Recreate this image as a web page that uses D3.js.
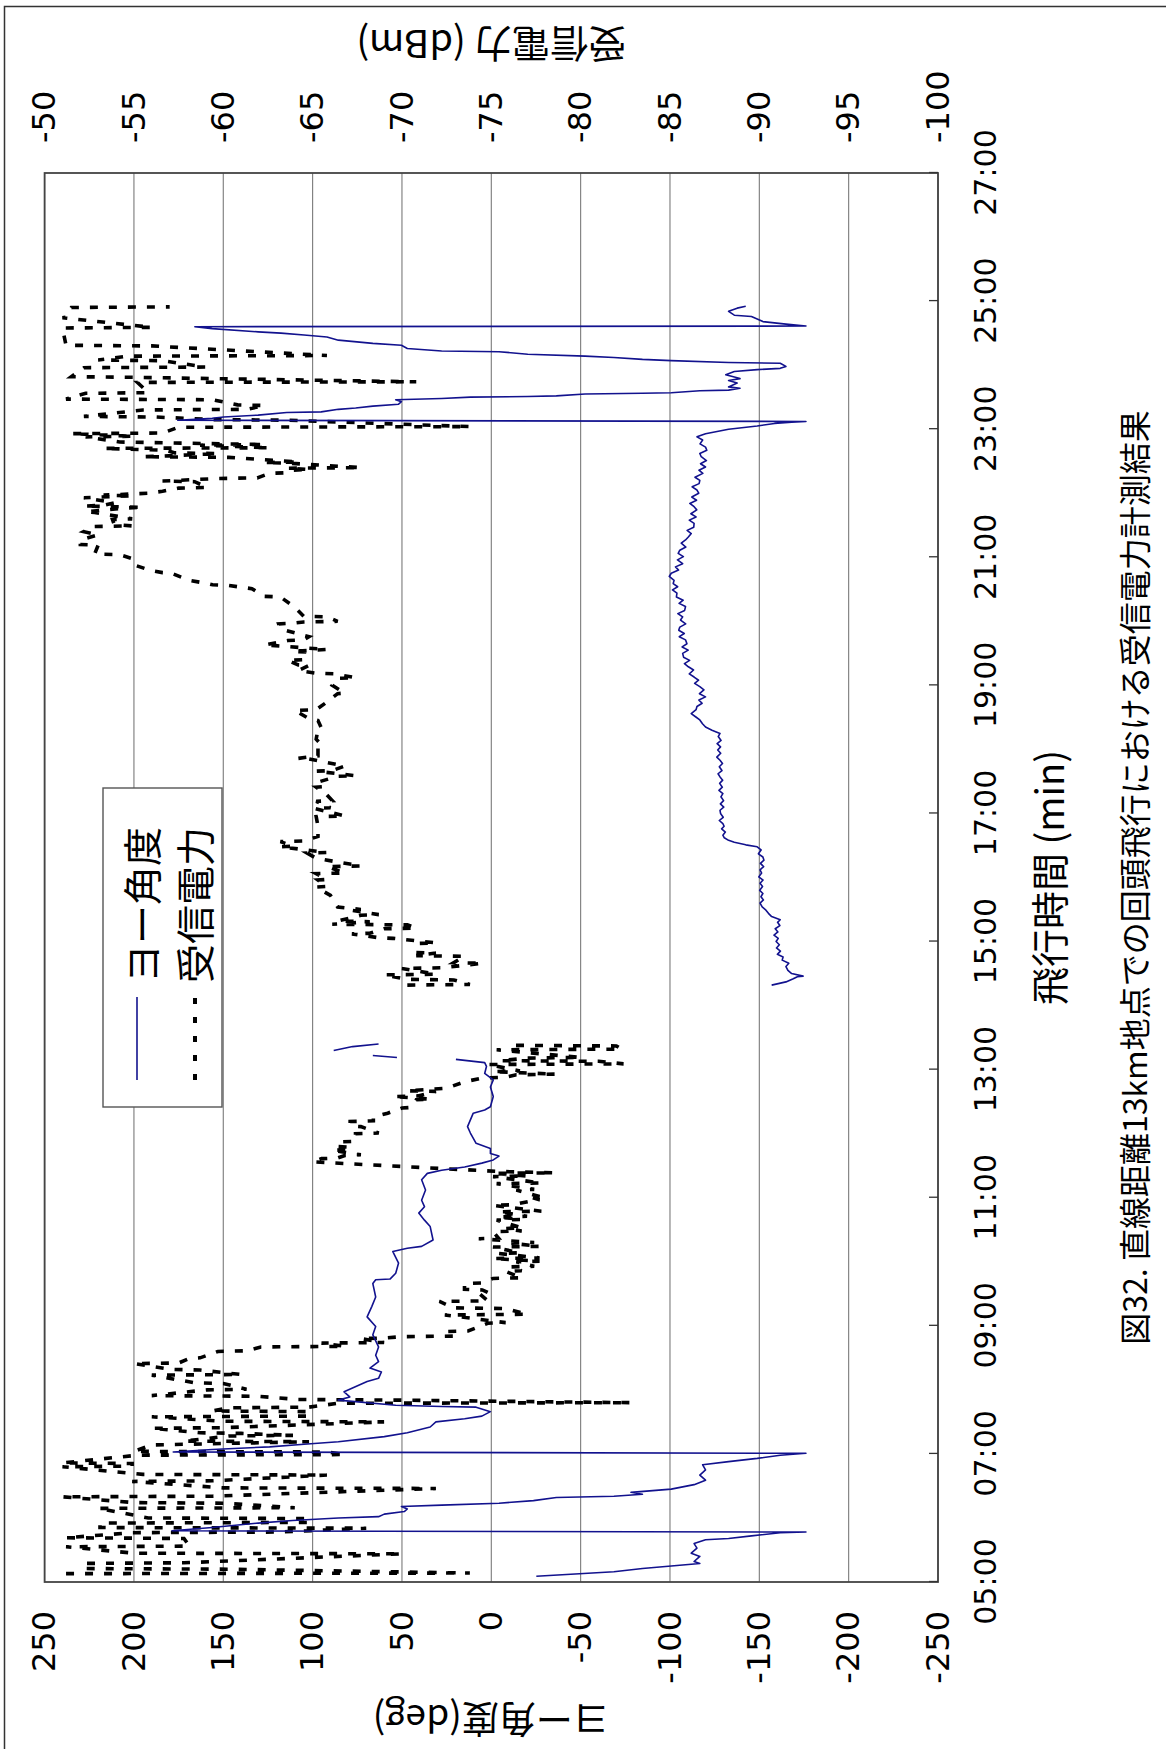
<!DOCTYPE html>
<html>
<head>
<meta charset="utf-8">
<script src="https://cdn.jsdelivr.net/npm/d3@7"></script>
<style>
  html, body { margin: 0; padding: 0; background: #fff; }
  svg { display: block; }
</style>
</head>
<body>
<svg id="chart" width="1166" height="1749"></svg>
<script>
// ---- axis ticks ----
const timeTickValues = [5, 7, 9, 11, 13, 15, 17, 19, 21, 23, 25, 27];
const timeTickLabels = ["05:00", "07:00", "09:00", "11:00", "13:00", "15:00",
                        "17:00", "19:00", "21:00", "23:00", "25:00", "27:00"];
const yawTicks = [250, 200, 150, 100, 50, 0, -50, -100, -150, -200, -250];
const yawTickLabels = ["250", "200", "150", "100", "50", "0", "-50", "-100", "-150", "-200", "-250"];
const powerTicks = [-50, -55, -60, -65, -70, -75, -80, -85, -90, -95, -100];
const powerTickLabels = ["-50", "-55", "-60", "-65", "-70", "-75", "-80", "-85", "-90", "-95", "-100"];

// ---- yaw angle (deg) vs flight time (min); null = no data ----
const yawTime = [
  5.09, 5.13, 5.16, 5.21, 5.25, 5.29, 5.32, 5.40, 5.45, 5.53, 5.60, 5.66, 5.68, 5.72, 5.77, 5.78,
  5.80, 5.85, 5.92, 5.96, 6.00, 6.02, 6.06, 6.10, 6.14, 6.18, 6.20, 6.23, 6.27, 6.32, 6.34, 6.37,
  6.40, 6.45, 6.52, 6.59, 6.67, 6.75, 6.83, 6.88, 6.93, 6.98, 7.01,
  7.03, 7.07, 7.11, 7.15, 7.19, 7.27, 7.33, 7.42, 7.50, 7.55, 7.59, 7.66, 7.73, 7.74, 7.76, 7.84,
  7.89, 7.97, 8.13, 8.18, 8.28, 8.34, 8.44, 8.54, 8.67, 8.86, 8.99, 9.14, 9.30, 9.45, 9.66, 9.72,
  9.73, 9.82, 9.98, 10.16, 10.21, 10.24, 10.34, 10.55, 10.65, 10.76, 10.86, 10.96, 11.12, 11.28,
  11.38, 11.43, 11.48, 11.54, 11.59, 11.65, 11.69, 11.77, 11.85, 12.01, 12.11, 12.32, 12.37, 12.42,
  12.58, 12.73, 12.84, 12.94, 13.05, 13.11, 13.16,
  13.17, 13.19, 13.22, 13.26, 13.30, 13.36, 13.40, 13.42,
  14.32, 14.37, 14.42, 14.45, 14.46, 14.50, 14.55, 14.61, 14.66, 14.71, 14.76, 14.80, 14.85, 14.90,
  14.95, 15.00, 15.05, 15.10, 15.15, 15.20, 15.25, 15.30, 15.34, 15.39, 15.44, 15.49, 15.54, 15.60,
  15.65, 15.70, 15.75, 15.80, 15.86, 15.91, 15.96, 16.01, 16.07, 16.12, 16.17, 16.22, 16.27, 16.32,
  16.37, 16.43, 16.48, 16.51, 16.55, 16.58, 16.62, 16.66, 16.71, 16.76, 16.80, 16.84, 16.89, 16.94,
  17.00, 17.05, 17.10, 17.15, 17.20, 17.26, 17.31, 17.36, 17.41, 17.47, 17.52, 17.57, 17.62, 17.67,
  17.73, 17.78, 17.83, 17.88, 17.94, 17.99, 18.04, 18.09, 18.14, 18.20, 18.25, 18.30, 18.35, 18.40,
  18.46, 18.51, 18.56, 18.62, 18.67, 18.72, 18.77, 18.82, 18.87, 18.93, 18.98, 19.03, 19.08, 19.13,
  19.18, 19.24, 19.29, 19.34, 19.39, 19.44, 19.50, 19.55, 19.60, 19.65, 19.71, 19.76, 19.81, 19.86,
  19.91, 19.96, 20.02, 20.07, 20.12, 20.17, 20.23, 20.28, 20.33, 20.38, 20.44, 20.49, 20.54, 20.59,
  20.64, 20.70, 20.75, 20.80, 20.85, 20.90, 20.96, 21.01, 21.06, 21.11, 21.16, 21.22, 21.27, 21.32,
  21.37, 21.42, 21.47, 21.53, 21.58, 21.63, 21.68, 21.74, 21.79, 21.84, 21.89, 21.94, 22.00, 22.05,
  22.10, 22.15, 22.20, 22.25, 22.31, 22.36, 22.41, 22.46, 22.51, 22.57, 22.62, 22.67, 22.72, 22.77,
  22.83, 22.88, 22.93, 23.00, 23.05, 23.09, 23.11, 23.12,
  23.14, 23.17, 23.19, 23.22, 23.26, 23.27, 23.31, 23.33, 23.36, 23.39, 23.43, 23.46, 23.48, 23.50,
  23.51, 23.52, 23.55, 23.56, 23.57, 23.60, 23.61, 23.64, 23.66, 23.72, 23.76, 23.79, 23.85, 23.90,
  23.93, 23.95, 23.98, 24.03, 24.04, 24.07, 24.09, 24.12, 24.14, 24.17, 24.21, 24.22, 24.26, 24.31,
  24.34, 24.39, 24.44, 24.47, 24.50, 24.52, 24.57, 24.60,
  24.61, 24.64, 24.68, 24.76, 24.78, 24.84, 24.89, 24.92
];
const yawDeg = [
  -25.2, -49.3, -68.6, -84.6, -100.7, -116.7, -113.5, -116.7, -111.9, -115.1, -113.5, -119.9, -132.8, -145.6, -161.7, -176.1,
  178.7, 156.2, 130.5, 111.3, 85.6, 63.1, 59.9, 48.7, 47.0, 50.3, 27.8, -4.3, -23.6, -36.4, -68.6, -84.6,
  -78.2, -100.7, -113.5, -119.9, -116.7, -119.9, -118.3, -132.8, -148.8, -161.7, -176.1,
  178.0, 156.2, 124.1, 104.8, 85.6, 59.9, 47.0, 34.2, 31.0, 14.9, 5.3, 0.5, 8.5, 27.8, 53.5, 85.6,
  79.2, 82.4, 69.5, 63.1, 61.5, 67.9, 63.1, 64.7, 63.1, 66.3, 64.7, 69.5, 66.9, 64.7, 66.3, 64.7,
  56.7, 53.5, 51.9, 55.1, 47.0, 39.0, 32.6, 34.2, 37.4, 40.6, 37.4, 39.0, 36.8, 39.0,
  35.8, 27.8, 14.9, 5.3, -1.1, -4.3, 0.5, 0.5, 8.5, 11.7, 13.3, 10.1, 3.7, 0.5,
  -1.1, 0.5, -1.1, 3.7, 2.7, 3.7, 19.8,
  null, 52.8, 66.3, null, 88.2, 77.6, 63.1, null,
  -156.9, -164.9, -169.0, -171.3, -174.5, -168.1, -166.0, -164.9, -166.5, -162.8, -163.3, -160.1, -161.8, -159.6,
  -161.2, -159.4, -160.6, -158.2, -160.4, -158.9, -161.5, -160.2, -161.7, -156.9, -155.1, -153.7, -151.6, -150.4,
  -152.3, -150.9, -152.0, -150.2, -151.8, -150.4, -152.1, -149.7, -151.3, -150.4, -152.4, -150.6, -152.6, -152.0,
  -149.5, -151.0, -148.8, -142.4, -136.0, -132.8, -130.4, -129.6, -131.0, -128.9, -130.3, -129.6, -127.6, -129.8,
  -128.3, -128.0, -130.1, -128.2, -130.0, -128.5, -129.6, -127.4, -129.3, -127.8, -129.5, -128.0, -126.9, -129.1,
  -127.6, -129.4, -128.0, -126.2, -128.4, -126.7, -128.3, -126.4, -128.6, -127.0, -128.0, -123.5, -119.9, -118.2,
  -116.7, -114.3, -111.9, -114.6, -115.1, -118.0, -116.2, -119.9, -116.5, -119.0, -116.7, -113.8, -116.0, -113.5,
  -110.8, -113.2, -110.3, -108.1, -111.0, -107.6, -107.1, -110.2, -106.8, -109.5, -108.7, -105.2, -108.0, -104.9,
  -105.5, -108.8, -105.9, -107.1, -104.4, -108.2, -108.7, -105.1, -107.4, -103.6, -103.9, -101.4, -104.3, -101.8,
  -102.3, -99.6, -100.7, -104.8, -103.1, -107.1, -104.2, -107.5, -104.6, -105.5, -108.9, -106.3, -108.7, -110.4,
  -111.9, -109.6, -113.3, -113.5, -110.8, -114.6, -111.7, -115.0, -113.5, -111.1, -114.9, -112.2, -116.1, -115.1,
  -112.4, -116.3, -116.7, -114.0, -118.4, -116.2, -119.9, -117.1, -120.4, -117.5, -116.7, -120.6, -119.9, -116.8,
  -118.3, -115.1, -119.9, -132.8, -148.8, -158.5, -168.1, -176.1,
  175.5, 156.2, 149.8, 130.5, 114.5, 95.2, 85.6, 75.9, 66.3, 51.9, 50.3, 53.5, 27.8, 11.7,
  -20.4, -36.4, -52.5, -84.6, -100.7, -116.7, -132.8, -139.2, -132.8, -137.6, -132.8, -139.2, -131.2, -136.0,
  -148.8, -161.7, -164.9, -161.7, -132.8, -100.7, -84.6, -68.6, -52.5, -20.4, -4.3, 27.8, 47.0, 50.3,
  66.3, 85.6, 92.0, 104.8, 117.7, 130.5, 156.2, 165.9,
  -176.1, -164.9, -152.0, -145.6, -136.0, -132.8, -137.6, -142.4
];

// ---- received power (dBm) vs flight time (min); null = no data ----
const powerTime = [
  5.13, 5.14, 5.20, 5.21, 5.29, 5.30, 5.44, 5.45, 5.55, 5.56, 5.68, 5.69, 5.77, 5.78, 5.84, 5.85,
  5.92, 5.93, 5.99, 6.00, 6.15, 6.16, 6.23, 6.24, 6.33, 6.34, 6.46, 6.47, 6.57, 6.58, 6.67, 6.68,
  6.80, 6.81, 6.85, 6.86, 6.98, 6.99, 7.03, 7.04, 7.14, 7.15, 7.19, 7.20, 7.28, 7.29, 7.32, 7.33,
  7.40, 7.41, 7.50, 7.51, 7.58, 7.59, 7.66, 7.67, 7.72, 7.73, 7.79, 7.80, 7.84, 7.85, 7.90, 7.91,
  8.00, 8.01, 8.10, 8.11, 8.23, 8.24, 8.31, 8.32, 8.41, 8.42, 8.49, 8.50, 8.60, 8.61, 8.67, 8.68,
  8.73, 8.74, 8.80, 8.81, 8.83, 8.84, 8.91, 8.92, 9.04, 9.05, 9.17, 9.18, 9.27, 9.28, 9.38, 9.39,
  9.51, 9.52,
  9.56, 9.57, 9.66, 9.67, 9.74, 9.75, 9.85, 9.86, 9.92, 9.93, 10.00, 10.01, 10.05, 10.06, 10.13, 10.14,
  10.23, 10.24, 10.29, 10.30, 10.36, 10.37, 10.47, 10.48, 10.52, 10.53, 10.65, 10.66, 10.70, 10.71,
  10.78, 10.79, 10.88, 10.89, 10.96, 10.97, 11.01, 11.02, 11.12, 11.13, 11.22, 11.23, 11.33, 11.34,
  11.38, 11.39, 11.41, 11.56, 11.61, 11.62, 11.66, 11.67, 11.74, 11.75, 11.79, 11.80, 11.87, 11.88,
  12.00, 12.01, 12.11, 12.12, 12.19, 12.20, 12.26, 12.32, 12.40, 12.41, 12.53, 12.54, 12.58, 12.59,
  12.66, 12.67, 12.71, 12.81, 12.87, 12.88, 12.92, 12.93, 12.97, 12.98, 13.08, 13.09, 13.13, 13.14,
  13.18, 13.19, 13.31, 13.32, 13.37, 13.38, 13.40,
  14.32, 14.33, 14.40, 14.41, 14.48, 14.49, 14.58, 14.59, 14.66, 14.67, 14.77, 14.78, 14.82, 14.83,
  14.97, 14.98, 15.05, 15.06, 15.12, 15.13, 15.20, 15.21, 15.26, 15.27, 15.31, 15.32, 15.41, 15.42,
  15.49, 15.50, 15.54, 15.72, 15.85, 15.86, 15.96, 15.97, 16.06, 16.07, 16.17, 16.18, 16.30, 16.38,
  16.39, 16.48, 16.49, 16.56, 16.57, 16.64, 16.80, 16.95, 16.96, 17.08, 17.09, 17.19, 17.20, 17.29,
  17.41, 17.42, 17.49, 17.58, 17.59, 17.66, 17.67, 17.74, 17.85, 17.86, 17.90, 18.06, 18.07, 18.16,
  18.32, 18.33, 18.45, 18.48, 18.61, 18.62, 18.74, 18.87, 18.88, 19.00, 19.11, 19.12, 19.18, 19.19,
  19.23, 19.31, 19.32, 19.39, 19.40, 19.52, 19.53, 19.55, 19.56, 19.62, 19.63, 19.70, 19.71, 19.76,
  19.88, 19.96, 19.97, 19.99, 20.00, 20.07, 20.08, 20.22, 20.38, 20.39, 20.51, 20.56, 20.57, 20.59,
  20.64, 20.75, 20.76, 20.79, 20.88, 20.98, 21.04, 21.05, 21.19, 21.20, 21.27, 21.35, 21.40, 21.48,
  21.49, 21.51, 21.59, 21.60, 21.70, 21.71, 21.77, 21.78, 21.80, 21.81, 21.85, 21.93, 21.96, 21.97,
  22.00, 22.03, 22.08, 22.09, 22.18, 22.19, 22.23, 22.24, 22.31, 22.32, 22.36, 22.37, 22.39, 22.40,
  22.47, 22.48, 22.49, 22.55, 22.56, 22.57, 22.58, 22.62, 22.63, 22.67, 22.70, 22.71, 22.75, 22.76,
  22.80, 22.88, 22.89, 22.93, 22.94, 23.03, 23.04, 23.14, 23.15, 23.19, 23.20, 23.30, 23.31, 23.37,
  23.38, 23.46, 23.47, 23.56, 23.57, 23.73, 23.74, 23.81, 23.82, 23.96, 23.97, 24.07, 24.08, 24.14,
  24.15, 24.30, 24.31, 24.58, 24.59, 24.74, 24.75, 24.90, 24.91
];
const powerDbm = [
  -51.2, -73.8, -60.3, -52.2, -52.2, -57.8, -70.0, -55.0, -51.2, -58.1, -57.8, -51.2, -54.9, -63.1, -68.0, -53.1,
  -53.1, -64.8, -64.8, -55.8, -53.0, -64.0, -60.0, -55.0, -51.0, -59.4, -71.9, -60.0, -54.9, -59.4, -65.8, -55.5,
  -51.0, -54.9, -54.9, -51.0, -55.2, -66.8, -65.8, -55.0, -56.0, -57.8, -64.8, -57.8, -60.3, -63.9, -61.0, -58.7,
  -56.0, -60.0, -69.0, -60.0, -56.0, -64.8, -64.8, -59.4, -60.3, -64.8, -66.4, -82.8, -69.7, -64.2, -61.9, -56.0,
  -59.1, -61.3, -60.0, -58.4, -56.0, -61.0, -58.7, -57.1, -55.0, -57.5, -58.1, -58.7, -59.7, -61.3, -62.1, -66.8,
  -65.5, -69.0, -67.7, -69.0, -70.0, -72.9, -72.5, -73.7, -74.8, -75.8, -72.4, -77.0, -75.8, -72.9, -72.1, -74.8,
  -74.3, -74.8,
  -74.5, -73.5, -73.5, -74.5, -75.1, -76.7, -75.8, -76.7, -76.1, -77.4, -76.4, -77.7, -75.1, -77.7, -75.4, -76.6,
  -75.1, -77.7, -76.1, -77.4, -74.3, -75.4, -75.1, -76.7, -75.8, -76.7, -75.3, -76.7, -75.4, -77.0,
  -75.4, -77.8, -75.1, -76.2, -77.4, -77.7, -77.2, -77.7, -76.4, -77.4, -75.3, -77.8, -75.1, -77.0,
  -75.1, -78.5, -75.4, -65.0, -65.5, -66.4, -66.8, -67.7, -66.1, -67.1, -67.1, -66.4, -66.4, -67.4,
  -67.4, -68.7, -67.7, -67.1, -67.1, -68.4, -68.4, -69.2, -70.0, -70.5, -70.8, -71.6, -69.5, -70.9,
  -71.9, -70.3, -72.5, -73.5, -74.5, -75.8, -76.4, -78.6, -75.1, -76.6, -74.8, -82.4, -81.0, -75.5,
  -77.0, -80.0, -75.3, -82.3, -82.0, -76.0, null,
  -70.3, -73.8, -72.9, -70.3, -69.0, -71.9, -70.0, -72.2, -74.5, -72.9, -73.5, -70.8, -71.9, -70.8,
  -70.9, -71.9, -69.5, -68.7, -67.2, -68.2, -69.0, -70.8, -70.3, -66.1, -68.2, -66.4, -67.7, -68.7,
  -67.1, -67.7, -66.4, -66.0, -65.2, -65.8, -65.3, -65.8, -65.2, -66.8, -65.8, -67.7, -65.2, -64.7,
  -65.8, -63.2, -63.9, -63.2, -64.5, -65.3, -65.3, -65.2, -66.8, -65.1, -66.0, -65.2, -66.1, -65.8,
  -65.2, -65.6, -65.3, -66.4, -67.4, -65.2, -66.1, -66.8, -64.8, -64.2, -65.3, -65.3, -65.5, -65.2,
  -65.3, -65.5, -65.3, -64.8, -64.0, -65.2, -65.8, -66.4, -66.8, -66.1, -66.4, -67.4, -66.2, -65.2,
  -64.2, -64.8, -64.2, -63.6, -64.5, -64.7, -63.9, -65.2, -65.8, -62.9, -62.3, -63.6, -64.5, -64.8,
  -63.2, -63.1, -63.9, -64.5, -66.4, -65.8, -64.5, -64.0, -63.2, -62.3, -61.6, -60.3, -59.4, -59.1,
  -58.1, -57.1, -56.6, -56.0, -55.0, -54.9, -54.2, -52.8, -53.0, -52.0, -52.0, -53.0, -52.2, -52.8,
  -54.9, -53.9, -53.8, -54.9, -52.8, -52.3, -54.6, -55.5, -52.2, -53.3, -53.9, -52.2, -54.9, -53.3,
  -55.8, -56.6, -57.5, -59.1, -58.4, -56.6, -59.7, -61.9, -62.6, -63.6, -63.9, -64.8, -63.6, -67.7,
  -63.6, -62.3, -64.2, -60.8, -60.3, -55.5, -56.6, -59.7, -57.3, -56.8, -53.3, -62.6, -58.7, -62.3,
  -54.2, -52.3, -55.0, -51.5, -56.6, -57.5, -73.8, -63.6, -59.4, -56.2, -52.2, -55.5, -61.3, -62.3,
  -60.8, -59.4, -51.2, -52.3, -55.8, -55.2, -70.8, -54.9, -51.5, -52.2, -59.0, -56.6, -53.0, -54.6,
  -65.8, -56.0, -51.2, -51.0, -56.0, -51.0, -51.2, -51.5, -57.0
];

// ---- page / plot geometry (chart laid out landscape, then turned) ----
const W = 1166, H = 1749;
const plot = { left: 167, right: 1576, top: 44.6, bottom: 938 };
const jpFont = "'Noto Sans CJK JP', 'Noto Sans', sans-serif";
const numFont = "'DejaVu Sans', sans-serif";

const svg = d3.select("#chart");
svg.append("rect").attr("width", W).attr("height", H).attr("fill", "#fff");

// outer frame
svg.append("path")
  .attr("d", `M4.5,${H} V6.5 H${W}`)
  .attr("fill", "none").attr("stroke", "#333").attr("stroke-width", 1.5);

// landscape chart group, rotated a quarter turn counter-clockwise
const g = svg.append("g").attr("transform", `translate(0,${H}) rotate(-90)`);

const x = d3.scaleLinear().domain([5, 27]).range([plot.left, plot.right]);
const yYaw = d3.scaleLinear().domain([-250, 250]).range([plot.bottom, plot.top]);
const yPow = d3.scaleLinear().domain([-100, -50]).range([plot.bottom, plot.top]);

// horizontal grid lines
g.append("g").selectAll("line").data(yawTicks).join("line")
  .attr("x1", plot.left).attr("x2", plot.right)
  .attr("y1", d => yYaw(d)).attr("y2", d => yYaw(d))
  .attr("stroke", "#7a7a7a").attr("stroke-width", 1.1);

// plot border
g.append("rect")
  .attr("x", plot.left).attr("y", plot.top)
  .attr("width", plot.right - plot.left).attr("height", plot.bottom - plot.top)
  .attr("fill", "none").attr("stroke", "#444").attr("stroke-width", 1.8);

// time axis
const xAxis = g.append("g").attr("transform", `translate(0,${plot.bottom})`)
  .call(d3.axisBottom(x).tickValues(timeTickValues)
    .tickFormat((d, i) => timeTickLabels[i])
    .tickSizeInner(-9).tickSizeOuter(0).tickPadding(37));
xAxis.select(".domain").remove();
xAxis.selectAll(".tick line").attr("stroke", "#333").attr("stroke-width", 1.3);
xAxis.selectAll("text").attr("font-family", numFont).attr("font-size", 30).attr("fill", "#000");

// yaw axis (left)
const yawAxis = g.append("g").attr("transform", `translate(${plot.left},0)`)
  .call(d3.axisLeft(yYaw).tickValues(yawTicks)
    .tickFormat((d, i) => yawTickLabels[i]).tickSize(0).tickPadding(29));
yawAxis.select(".domain").remove();
yawAxis.selectAll("text").attr("font-family", numFont).attr("font-size", 32).attr("fill", "#000");

// received power axis (right)
const powAxis = g.append("g").attr("transform", `translate(${plot.right},0)`)
  .call(d3.axisRight(yPow).tickValues(powerTicks)
    .tickFormat((d, i) => powerTickLabels[i]).tickSize(0).tickPadding(30));
powAxis.select(".domain").remove();
powAxis.selectAll("text").attr("font-family", numFont).attr("font-size", 32).attr("fill", "#000");

// series
const yawData = yawTime.map((t, i) => ({ t, v: yawDeg[i] }));
const powData = powerTime.map((t, i) => ({ t, v: powerDbm[i] }));

g.append("clipPath").attr("id", "plotClip").append("rect")
  .attr("x", plot.left).attr("y", plot.top)
  .attr("width", plot.right - plot.left).attr("height", plot.bottom - plot.top);

const series = g.append("g").attr("clip-path", "url(#plotClip)");

series.append("path")
  .datum(powData)
  .attr("d", d3.line().defined(d => d.v !== null).x(d => x(d.t)).y(d => yPow(d.v)))
  .attr("fill", "none").attr("stroke", "#000").attr("stroke-width", 3.6)
  .attr("stroke-dasharray", "8 11");

series.append("path")
  .datum(yawData)
  .attr("d", d3.line().defined(d => d.v !== null).x(d => x(d.t)).y(d => yYaw(d.v)))
  .attr("fill", "none").attr("stroke", "#12128e").attr("stroke-width", 1.6)
  .attr("stroke-linejoin", "round");

// legend
const legend = g.append("g");
legend.append("rect")
  .attr("x", 642).attr("y", 103).attr("width", 319).attr("height", 119)
  .attr("fill", "#fff").attr("stroke", "#555").attr("stroke-width", 1.4);
legend.append("line")
  .attr("x1", 669).attr("x2", 752).attr("y1", 137).attr("y2", 137)
  .attr("stroke", "#12128e").attr("stroke-width", 1.6);
legend.append("line")
  .attr("x1", 669).attr("x2", 752).attr("y1", 195).attr("y2", 195)
  .attr("stroke", "#000").attr("stroke-width", 4).attr("stroke-dasharray", "6 13");
legend.append("text").attr("x", 766).attr("y", 140)
  .attr("dominant-baseline", "central")
  .attr("font-family", jpFont).attr("font-size", 39).text("ヨー角度");
legend.append("text").attr("x", 766).attr("y", 193)
  .attr("dominant-baseline", "central")
  .attr("font-family", jpFont).attr("font-size", 39).text("受信電力");

// axis titles
g.append("text")
  .attr("transform", `translate(44,${(plot.top + plot.bottom) / 2}) rotate(-90)`)
  .attr("text-anchor", "middle")
  .attr("font-family", jpFont).attr("font-size", 37).text("ヨー角度(deg)");

g.append("text")
  .attr("transform", `translate(1719,${(plot.top + plot.bottom) / 2}) rotate(-90)`)
  .attr("text-anchor", "middle")
  .attr("font-family", jpFont).attr("font-size", 38).text("受信電力 (dBm)");

g.append("text")
  .attr("x", (plot.left + plot.right) / 2).attr("y", 1047)
  .attr("text-anchor", "middle").attr("dominant-baseline", "central")
  .attr("font-family", jpFont).attr("font-size", 38).text("飛行時間 (min)");

// figure caption
g.append("text")
  .attr("x", (plot.left + plot.right) / 2).attr("y", 1133)
  .attr("text-anchor", "middle").attr("dominant-baseline", "central")
  .attr("font-family", jpFont).attr("font-size", 32)
  .text("図32. 直線距離13km地点での回頭飛行における受信電力計測結果");
</script>
</body>
</html>
